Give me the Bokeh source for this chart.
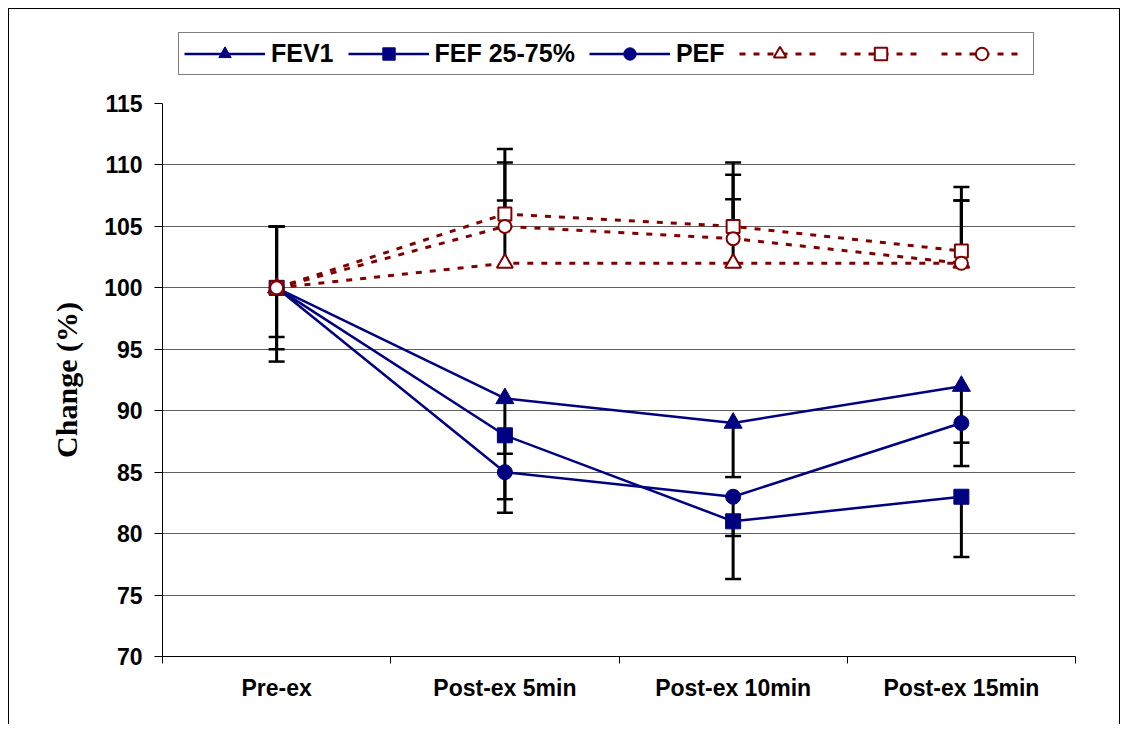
from bokeh.plotting import figure
from bokeh.models import Legend, LegendItem, FixedTicker, Range1d
from bokeh.layouts import column
from bokeh.embed import file_html
from bokeh.resources import INLINE

categories = ["Pre-ex", "Post-ex 5min", "Post-ex 10min", "Post-ex 15min"]

fev1 = [100, 91, 89, 92]
fef = [100, 88, 81, 83]
pef = [100, 85, 83, 89]
fev1_low = [96, 86.5, 84.6, 87.4]
fef_low = [94, 82.8, 76.3, 78.1]
pef_low = [95, 81.7, 79.8, 85.5]

fev1_b = [100, 102, 102, 102]
fef_b = [100, 106, 105, 103]
pef_b = [100, 105, 104, 102]
fev1_b_up = [105, 107.1, 107.2, 107.1]
fef_b_up = [105, 111.3, 110.2, 108.2]
pef_b_up = [105, 110.2, 109.2, 107.1]

labels = ["FEV1", "FEF 25-75%", "PEF"]
yticks = [70, 75, 80, 85, 90, 95, 100, 105, 110, 115]

xs = [i + 0.5 for i in range(len(categories))]

NAVY = "#000080"
RED = "#800000"
FONT = "Liberation Sans"

W = 1110

# ---------------- main chart ----------------
p = figure(width=W, height=633, output_backend="svg", toolbar_location=None,
           x_range=Range1d(0, len(categories)), y_range=Range1d(70, 115),
           min_border_left=153, min_border_right=44, min_border_top=12, min_border_bottom=68)
p.outline_line_color = None
p.background_fill_color = "white"
p.border_fill_color = "white"

p.xgrid.grid_line_color = None
p.ygrid.grid_line_color = "#606060"
p.ygrid.grid_line_width = 1
p.ygrid.ticker = FixedTicker(ticks=yticks)

p.yaxis.ticker = FixedTicker(ticks=yticks, minor_ticks=[])
p.yaxis.axis_label = "Change (%)"
p.yaxis.axis_label_text_font = "Liberation Serif"
p.yaxis.axis_label_text_font_style = "bold"
p.yaxis.axis_label_text_font_size = "30px"
p.yaxis.axis_label_text_color = "black"
p.yaxis.axis_label_standoff = 18
p.yaxis.major_label_text_font = FONT
p.yaxis.major_label_text_font_style = "bold"
p.yaxis.major_label_text_font_size = "23px"
p.yaxis.major_label_text_color = "black"
p.yaxis.major_label_standoff = 12
p.yaxis.major_tick_out = 8
p.yaxis.major_tick_in = 0
p.yaxis.minor_tick_out = 0
p.yaxis.minor_tick_in = 0
p.yaxis.axis_line_color = "black"
p.yaxis.major_tick_line_color = "black"

p.xaxis.ticker = FixedTicker(ticks=xs, minor_ticks=list(range(len(categories) + 1)))
p.xaxis.major_label_overrides = {x: c for x, c in zip(xs, categories)}
p.xaxis.major_tick_out = 0
p.xaxis.major_tick_in = 0
p.xaxis.minor_tick_out = 7
p.xaxis.minor_tick_in = 0
p.xaxis.minor_tick_line_color = "black"
p.xaxis.axis_line_color = "black"
p.xaxis.major_label_text_font = FONT
p.xaxis.major_label_text_font_style = "bold"
p.xaxis.major_label_text_font_size = "23px"
p.xaxis.major_label_text_color = "black"
p.xaxis.major_label_standoff = 11

for vals, ends in [(fev1, fev1_low), (fef, fef_low), (pef, pef_low),
                   (fev1_b, fev1_b_up), (fef_b, fef_b_up), (pef_b, pef_b_up)]:
    p.segment(x0=xs, y0=vals, x1=xs, y1=ends, line_color="black", line_width=3)
    p.scatter(x=xs, y=ends, marker="dash", size=16, line_color="black", line_width=2.5)

solid = [(fev1, "triangle", 18), (fef, "square", 15), (pef, "circle", 15)]
dashed = [(fev1_b, "triangle", 16), (fef_b, "square", 13), (pef_b, "circle", 13)]


def draw(fig, series_solid, series_dashed):
    out = []
    for vals, mk, sz in series_solid:
        lr = fig.line(xs, vals, line_color=NAVY, line_width=2.5)
        sr = fig.scatter(xs, vals, marker=mk, size=sz, fill_color=NAVY, line_color=NAVY)
        out.append([lr, sr])
    for vals, mk, sz in series_dashed:
        lr = fig.line(xs, vals, line_color=RED, line_width=3, line_dash="6 8")
        sr = fig.scatter(xs, vals, marker=mk, size=sz, fill_color="white",
                         line_color=RED, line_width=2)
        out.append([lr, sr])
    return out


draw(p, solid, dashed)

# ---------------- legend strip (same series, drawn outside its visible range) ----------------
lg = figure(width=W, height=82, output_backend="svg", toolbar_location=None,
            x_range=Range1d(100, 101), y_range=Range1d(0, 1),
            min_border_left=0, min_border_right=0, min_border_top=0, min_border_bottom=0)
lg.axis.visible = False
lg.grid.visible = False
lg.outline_line_color = None
lg.background_fill_color = "white"
lg.border_fill_color = "white"
rends = draw(lg, solid, dashed)

items = []
for i, r in enumerate(rends):
    items.append(LegendItem(label=labels[i] if i < len(labels) else "", renderers=r))

legend = Legend(items=items, orientation="horizontal", location=(16, 16),
                margin=0, padding=5, spacing=14, label_standoff=6, label_width=0,
                glyph_width=81, glyph_height=31,
                label_text_font=FONT, label_text_font_style="bold",
                label_text_font_size="25px", label_text_color="black",
                border_line_color="black", border_line_width=1,
                background_fill_color="white", background_fill_alpha=1)
lg.add_layout(legend, "center")

page = column(lg, p, spacing=0)
page.styles = {"margin-left": "8px", "margin-top": "8px",
               "border-left": "1px solid black", "border-top": "1px solid black",
               "border-right": "1px solid black"}

open("out.html", "w").write(file_html(page, INLINE))
